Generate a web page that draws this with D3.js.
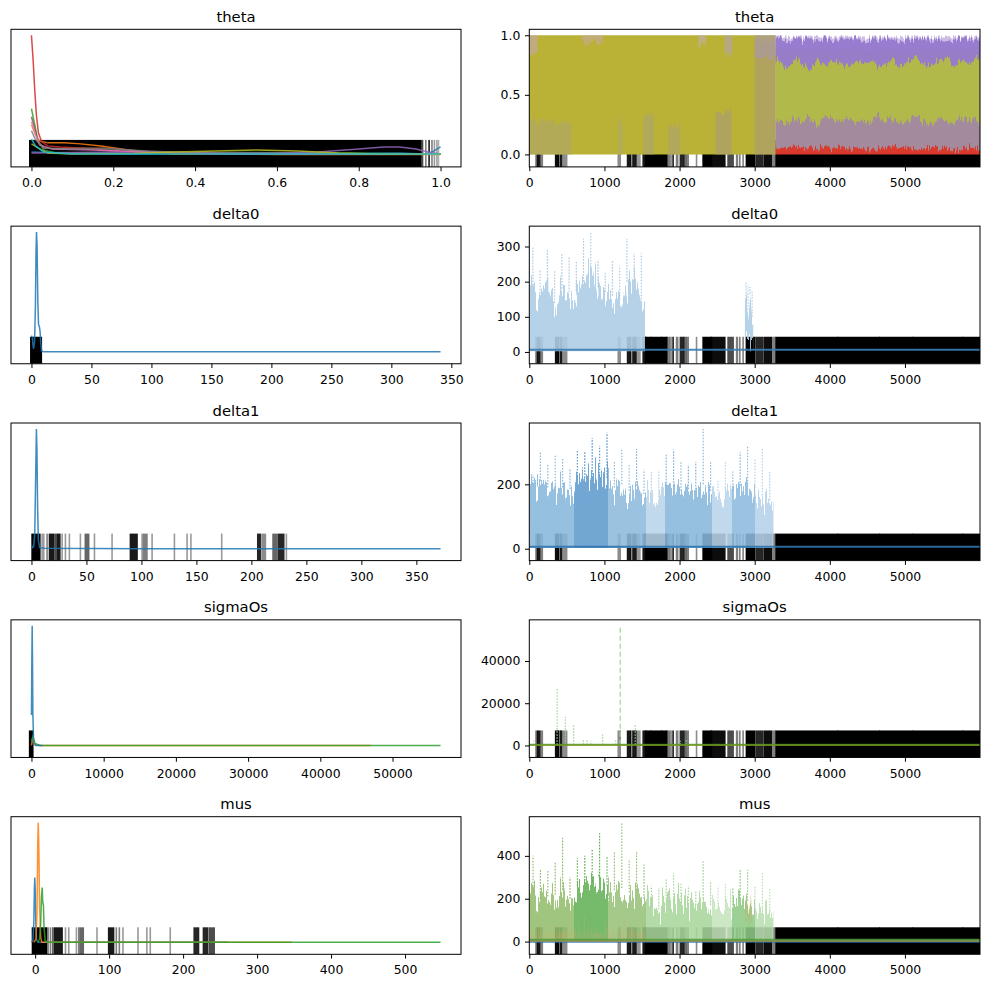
<!DOCTYPE html>
<html>
<head>
<meta charset="utf-8">
<script src="https://cdn.jsdelivr.net/npm/d3@7"></script>
<style>
  body { margin: 0; background: #fff; }
  svg text { font-family: "DejaVu Sans", sans-serif; fill: #000; }
</style>
</head>
<body>
<svg id="chart" width="989" height="989"></svg>
<script>
// ---------- data ----------
const varNames = ["theta", "delta0", "delta1", "sigmaOs", "mus"];
const nDraws = 6000;

// left column tick labels
const thetaTicksL = [0, 0.2, 0.4, 0.6, 0.8, 1.0];
const delta0TicksL = [0, 50, 100, 150, 200, 250, 300, 350];
const delta1TicksL = [0, 50, 100, 150, 200, 250, 300, 350];
const sigmaTicksL = [0, 10000, 20000, 30000, 40000, 50000];
const musTicksL = [0, 100, 200, 300, 400, 500];

// right column tick labels
const drawTicks = [0, 1000, 2000, 3000, 4000, 5000];
const thetaTicksR = [0, 0.5, 1.0];
const delta0TicksR = [0, 100, 200, 300];
const delta1TicksR = [0, 200];
const sigmaTicksR = [0, 20000, 40000];
const musTicksR = [0, 200, 400];

// kde curves: [tab10 index, [[value, density], ...]]
const thetaKde = [
  [0, [[0,3],[0.2,1],[0.5,1],[0.75,1.5],[0.9,2],[0.96,1],[0.98,3],[1,8]]],
  [1, [[0,30],[0.01,20],[0.02,14],[0.04,12],[0.08,12],[0.12,11],[0.17,9],[0.22,6],[0.27,3],[0.35,1],[0.6,0.5],[1,0.5]]],
  [2, [[0,46],[0.008,30],[0.016,14],[0.03,5],[0.06,2],[0.2,2],[0.5,2.5],[0.7,2],[1,1]]],
  [3, [[0,119],[0.004,95],[0.008,65],[0.012,40],[0.017,22],[0.025,13],[0.04,9],[0.07,8],[0.12,7],[0.2,4],[0.3,2],[0.5,1],[1,1]]],
  [4, [[0,2],[0.2,3],[0.4,2],[0.6,2],[0.7,3],[0.8,6],[0.86,8],[0.9,8],[0.94,6],[0.97,3],[1,1]]],
  [5, [[0,38],[0.008,26],[0.016,14],[0.03,7],[0.06,6],[0.12,7],[0.18,7],[0.24,5],[0.32,2],[0.5,1],[1,1]]],
  [6, [[0,33],[0.01,20],[0.02,10],[0.05,6],[0.15,5],[0.3,3],[0.5,1],[1,1]]],
  [7, [[0,24],[0.01,15],[0.03,7],[0.1,6],[0.2,6],[0.28,4],[0.4,2],[0.6,1],[1,1]]],
  [8, [[0,11],[0.02,6],[0.04,2],[0.1,1],[0.25,1.5],[0.35,3],[0.45,4],[0.55,5],[0.65,4],[0.75,2],[0.85,1],[1,1]]],
  [9, [[0,16],[0.01,9],[0.03,3],[0.1,1],[0.5,1],[1,1]]]
];
const delta0Kde = [
  [0, [[0,16],[0.8,14],[1.3,6],[1.8,3],[2.6,10],[3.3,45],[3.8,100],[4.2,119],[4.7,105],[5.3,50],[5.9,27],[6.6,25],[7.2,20],[7.8,8],[8.5,1],[10,0],[341,0]]]
];
const delta1Kde = [
  [0, [[0,3],[1,1],[2,2],[3,15],[3.8,70],[4.5,120],[5,100],[5.6,40],[6.3,8],[7.5,1],[12,0.5],[100,0],[372,0]]]
];
const sigmaKde = [
  [1, [[0,0],[150,6],[400,1],[1000,0],[47000,0]]],
  [2, [[0,4],[200,9],[500,2],[1200,0],[56650,0]]],
  [0, [[0,30],[60,90],[100,118],[140,90],[200,30],[300,2],[600,0],[1500,0]]]
];
const musKde = [
  [0, [[-5,0],[-3,2],[-1.8,20],[-1,55],[-0.5,65],[0.2,50],[1,15],[2,2],[4,0],[260,0]]],
  [1, [[-2,0],[1,3],[2.5,30],[3.5,100],[4.2,120],[5,95],[6,35],[7.5,5],[9,0],[347,0]]],
  [2, [[3,0],[6,3],[7.5,20],[8.5,45],[9.5,55],[10.3,40],[11.2,37],[12,15],[13.5,2],[16,0],[548,0]]]
];

// divergences on the kde side: [from, to, opacity]
const thetaDivL = [[-0.004,0.952,1],[0.956,0.956,0.7],[0.964,0.964,0.5],[0.972,0.972,0.9],[0.979,0.979,0.5],[0.985,0.985,0.4],[0.991,0.991,0.35],[0.995,0.995,0.3]];
const delta0DivL = [[-0.5,8.2,1]];
const delta1DivL = [[0.6,7.6,1],[9.7,9.7,0.4],[11.2,11.2,0.4],[14.2,14.2,0.5],[16.4,20.3,0.9],[21.8,21.8,0.7],[23.3,25.8,0.9],[27.9,27.9,0.4],[30.9,30.9,0.4],[34.5,34.5,0.4],[44.5,44.5,0.4],[49,52,0.6],[57.3,57.3,0.4],[73.3,73.3,0.4],[90,96,0.9],[100.6,100.6,0.4],[102,105,0.5],[109.7,109.7,0.4],[130,130,0.4],[141.5,141.5,0.4],[145,145,0.4],[173,173,0.4],[205.8,208,0.85],[209.7,212.7,0.45],[219.7,223.3,0.6],[224.8,229.4,0.85],[231.8,231.8,0.4]];
const sigmaDivL = [[-250,180,1]];
const musDivL = [[-3.6,15.3,1],[17.5,17.5,0.5],[20.7,20.7,0.5],[23.8,23.8,0.6],[26,36.4,0.9],[41,41,0.4],[45.4,45.4,0.4],[55.8,55.8,0.4],[59,59,0.5],[61,65,0.6],[83.6,83.6,0.4],[99.4,106,0.9],[109.7,109.7,0.5],[113.8,113.8,0.5],[118.7,118.7,0.4],[139,139,0.4],[151,151,0.4],[155.6,155.6,0.4],[182.6,182.6,0.4],[215,220.8,0.85],[227.5,233,0.85],[235.6,242,0.7]];

// divergences on the trace side (draw index): [from, to, opacity]
const divDraws = [[89,100,0.5],[110,138,0.9],[156,173,0.5],[351,386,0.95],[386,420,0.5],[420,430,0.85],[452,497,0.45],[1184,1210,0.45],[1308,1343,0.9],[1352,1370,0.45],[1383,1420,0.9],[1441,1472,0.4],[1516,1548,0.9],[1548,1615,1],[1625,1755,1],[1765,1827,1],[1835,1835,0.5],[1850,1850,0.5],[1870,1870,0.5],[1890,1890,0.4],[1914,1914,0.9],[1960,1975,0.5],[2011,2056,0.85],[2065,2080,0.5],[2093,2115,0.5],[2226,2226,0.45],[2314,2425,1],[2425,2602,0.95],[2646,2713,0.7],[2760,2770,0.5],[2802,2802,0.5],[2846,2846,0.5],[2890,3000,1],[3022,3110,0.85],[3133,3222,0.95],[3244,3270,0.5],[3285,4102,1],[4112,4658,1],[4668,5100,1],[5110,5765,1],[5776,5999,1]];

// theta trace, first part: [from, to, low, high]
const thetaPatches = [[0,3280,0,1.0],[0,560,0,0.28],[0,110,0.86,1.0],[700,980,0.94,1.0],[1180,1240,0,0.3],[1520,1660,0,0.32],[1850,2010,0,0.24],[2250,2350,0.92,1.0],[2480,2690,0,0.36],[2600,2700,0.85,1.0],[3000,3280,0,0.95],[3000,3280,0.8,1.0]];
// theta trace, second part (draws 3280-6000 in 27 blocks)
const thetaLate = [3280, 5999];
const thetaLateOlive = [0.15, 0.9];
const thetaLateHaze = [0.88, 0.99];
const thetaPurpleHi = [0.97,0.95,0.98,0.96,0.97,0.95,0.98,0.96,0.97,0.96,0.98,0.95,0.97,0.96,0.98,0.97,0.95,0.97,0.96,0.98,0.96,0.97,0.95,0.96,0.98,0.97,0.96];
const thetaPurpleLo = [0.78,0.74,0.80,0.76,0.72,0.79,0.75,0.80,0.77,0.73,0.78,0.76,0.81,0.74,0.77,0.79,0.75,0.78,0.80,0.76,0.74,0.79,0.82,0.75,0.78,0.77,0.80];
const thetaGrayHi = [0.28,0.25,0.32,0.27,0.30,0.24,0.33,0.28,0.26,0.31,0.27,0.29,0.25,0.32,0.28,0.30,0.26,0.29,0.33,0.27,0.25,0.30,0.28,0.24,0.31,0.27,0.29];
const thetaRedHi = [0.06,0.05,0.07,0.05,0.06,0.04,0.06,0.05,0.07,0.05,0.06,0.05,0.04,0.06,0.05,0.07,0.05,0.06,0.04,0.05,0.06,0.05,0.06,0.04,0.05,0.06,0.05];

// delta0 trace
const delta0Span = [0, 1540];
const delta0Peak = [298,236,293,230,280,270,258,322,341,262,225,262,245,322,280,280];
const delta0Body = [190,150,200,140,180,170,175,200,240,185,170,160,150,200,210,150];
const delta0BlipSpan = [2870, 2980];
const delta0BlipPeak = [197,190,185,172];
const delta0BlipBody = [150,120,165,100];
const delta0Low = 2;
const delta0Base = [6];

// delta1 trace
const delta1Span = [0, 3250];
const delta1Peak = [230,303,260,290,280,250,305,300,344,320,360,270,310,260,310,246,240,241,292,308,270,260,270,372,270,210,270,240,300,318,280,310,240];
const delta1Body = [200,210,190,200,190,185,215,220,230,225,220,190,200,180,195,170,150,160,185,195,180,185,175,200,180,170,180,180,195,200,170,165,150];
const delta1Bounds = [0,590,1050,1550,1800,2430,2700,3000,3250];
const delta1Low = 2;
const delta1Base = [6];

// sigmaOs trace: isolated excursions [draw, value]
const sigmaDotted = [[60,2800],[370,27200],[480,13600],[590,9600],[720,2600],[770,3000],[820,2000],[975,5200],[1150,2500],[1410,9600],[2010,2200],[2090,2600]];
const sigmaDashed = [[1210,56650]];
const sigmaBase = [250, 320];

// mus trace
const musSpan = [0, 3250];
const musPeak = [400,340,330,370,485,300,390,400,430,505,400,420,555,380,423,360,260,250,290,320,270,260,240,375,280,260,270,250,340,335,260,320,250];
const musBody = [230,200,210,220,240,200,260,270,280,290,260,240,250,230,240,200,160,150,170,190,180,175,170,200,170,160,165,170,200,190,150,160,140];
const musBounds = [0,600,1050,1550,2430,2700,3000,3250];
const musPatches = [[0,1550,2,35],[2870,2960,100,200]];
const musLow = 2;
const musBase = [-1, 4, 9];

// ---------- styles ----------
const tab10 = d3.schemeCategory10;
const thetaPatchColors = ["#bab236","#ada56c","#c4a7b0","#c9a9a9","#aea66f","#aaa175","#aba274","#bfb0b8","#a79b7c","#b4a4b4","#aa9a78","#a696b0"];
const delta1Colors = ["#87b7db","#5f9bcd","#8dbadc","#bad4ea","#88b7db","#b9d4ea","#8cbadd","#b5d1e9"];
const musColors = ["#93bd6c","#63b057","#97c27a","#a8d69c","#c5e4bc","#8fca85","#b9dfb0"];
const musPatchColors = ["#d2aa6e","#c4a35e"];

const L = { top: 29.3, pitch: 196.85, h: 137.6, leftX: 11, leftW: 450, rightX: 529.3, rightW: 450.7, divH: 27, pad: 40 };
const tickFont = 12.4, titleFont = 14.8;

const svg = d3.select("#chart");
const defs = svg.append("defs");

// streaky texture so the dense sample fills read like many overlapping traces
function ragFilter(id, scale) {
  const f = defs.append("filter").attr("id", id)
    .attr("x", "-5%").attr("y", "-40%").attr("width", "110%").attr("height", "180%")
    .attr("color-interpolation-filters", "sRGB");
  f.append("feTurbulence").attr("type", "fractalNoise")
    .attr("baseFrequency", "0.55 0.018").attr("numOctaves", 2).attr("seed", 3).attr("result", "n");
  f.append("feColorMatrix").attr("in", "n").attr("type", "matrix")
    .attr("values", "0 0 0 0 0.5  0 1 0 0 0  0 0 1 0 0  0 0 0 0 1").attr("result", "m");
  f.append("feDisplacementMap").attr("in", "SourceGraphic").attr("in2", "m")
    .attr("scale", scale).attr("xChannelSelector", "R").attr("yChannelSelector", "G");
}
ragFilter("rag-big", 60);
ragFilter("rag-small", 16);

// ---------- helpers ----------
function shell(id, left, top, w, x, y, title, xTicks, xFmt, yTicks, yFmt) {
  const g = svg.append("g").attr("transform", `translate(${left},${top})`);
  defs.append("clipPath").attr("id", "clip-" + id)
    .append("rect").attr("width", w).attr("height", L.h);
  const plot = g.append("g").attr("clip-path", `url(#clip-${id})`);

  const ax = g.append("g").attr("transform", `translate(0,${L.h})`)
    .call(d3.axisBottom(x).tickValues(xTicks).tickFormat(d3.format(xFmt)).tickSize(4.3).tickPadding(7));
  ax.select(".domain").remove();
  ax.selectAll("text").attr("font-size", tickFont).attr("font-family", "DejaVu Sans");
  ax.selectAll("line").attr("stroke-width", 1);

  if (yTicks) {
    const ay = g.append("g")
      .call(d3.axisLeft(y).tickValues(yTicks).tickFormat(d3.format(yFmt)).tickSize(4.3).tickPadding(4.7));
    ay.select(".domain").remove();
    ay.selectAll("text").attr("font-size", tickFont).attr("font-family", "DejaVu Sans");
    ay.selectAll("line").attr("stroke-width", 1);
  }

  g.append("rect").attr("width", w).attr("height", L.h)
    .attr("fill", "none").attr("stroke", "#000").attr("stroke-width", 1);
  g.append("text").attr("x", w / 2).attr("y", -7.5)
    .attr("text-anchor", "middle").attr("font-size", titleFont).text(title);
  return plot;
}

function drawDivs(plot, x, divs) {
  plot.append("g").selectAll("rect").data(divs).join("rect")
    .attr("x", d => x(d[0]) - 0.8)
    .attr("width", d => Math.max(x(d[1]) - x(d[0]), 0) + 1.6)
    .attr("y", L.h - L.divH).attr("height", L.divH)
    .attr("fill", "#000").attr("fill-opacity", d => d[2]);
}

function leftPanel(row, name, curves, divs, ticks, fmt) {
  const [x0, x1] = d3.extent(curves.flatMap(c => c[1].map(p => p[0])));
  const m = (x1 - x0) * 0.05;
  const x = d3.scaleLinear().domain([x0 - m, x1 + m]).range([0, L.leftW]);
  const ymax = d3.max(curves, c => d3.max(c[1], p => p[1]));
  const y = d3.scaleLinear().domain([-0.1 * ymax, 1.05 * ymax]).range([L.h, 0]);
  const plot = shell("l" + row, L.leftX, L.top + row * L.pitch, L.leftW, x, y, name, ticks, fmt, null, null);
  drawDivs(plot, x, divs);
  const line = d3.line().x(d => x(d[0])).y(d => y(d[1]));
  plot.append("g").selectAll("path").data(curves).join("path")
    .attr("d", d => line(d[1]))
    .attr("fill", "none")
    .attr("stroke", d => tab10[d[0]])
    .attr("stroke-width", 1.5)
    .attr("stroke-opacity", 0.85);
}

function rightScales(yMin, yMax) {
  const x = d3.scaleLinear().domain([0, nDraws - 1]).range([0, L.rightW]);
  const r = yMax - yMin;
  const y = d3.scaleLinear().domain([yMin - 0.105 * r, yMax + 0.05 * r]).range([L.h, 0]);
  return { x, y };
}

function rightShell(row, name, s, ticks, fmt) {
  return shell("r" + row, L.rightX, L.top + row * L.pitch, L.rightW, s.x, s.y, name, drawTicks, "d", ticks, fmt);
}

// textured group, clipped to the band [floor, ceil] of the value axis
function texLayer(plot, s, id, floor, ceil, filterId) {
  const yTop = ceil === null ? -5 : s.y(ceil);
  defs.append("clipPath").attr("id", id)
    .append("rect").attr("x", -5).attr("y", yTop).attr("width", L.rightW + 10).attr("height", s.y(floor) - yTop);
  const g = plot.append("g").attr("clip-path", `url(#${id})`)
    .append("g").attr("filter", `url(#${filterId})`);
  g.floor = floor;
  g.ceil = ceil;
  return g;
}

// edges lying on the clip limits are pushed past them, so the texture never opens a gap there
const lowY = (layer, s, v) => s.y(v) + (layer.floor !== undefined && v <= layer.floor ? L.pad : 0);
const highY = (layer, s, v) => s.y(v) - (layer.ceil !== undefined && layer.ceil !== null && v >= layer.ceil ? L.pad : 0);

// block values -> area between low and high, one vertex per block
function blockArea(layer, s, span, lo, hi, fill, op) {
  const n = hi.length, size = (span[1] - span[0]) / n;
  const loAt = i => Array.isArray(lo) ? lo[i] : lo;
  const pts = hi.map((v, i) => ({ t: span[0] + (i + 0.5) * size, lo: loAt(i), hi: v }));
  pts.unshift({ t: span[0], lo: loAt(0), hi: hi[0] });
  pts.push({ t: span[1], lo: loAt(n - 1), hi: hi[n - 1] });
  return layer.append("path").datum(pts)
    .attr("d", d3.area().x(d => s.x(d.t)).y0(d => lowY(layer, s, d.lo)).y1(d => highY(layer, s, d.hi)))
    .attr("fill", fill).attr("fill-opacity", op);
}

function patchPaths(layer, s, patches, colors, op) {
  layer.append("g").selectAll("path").data(patches).join("path")
    .attr("d", d => d3.area().x(t => s.x(t)).y0(lowY(layer, s, d[2])).y1(highY(layer, s, d[3]))([d[0], d[1]]))
    .attr("fill", (d, i) => colors[i]).attr("fill-opacity", op);
}

function blockSpikes(plot, s, span, body, peak, colorOf, op) {
  const size = (span[1] - span[0]) / peak.length;
  const t = i => span[0] + (i + 0.5) * size;
  plot.append("g").selectAll("line").data(peak).join("line")
    .attr("x1", (d, i) => s.x(t(i))).attr("x2", (d, i) => s.x(t(i)))
    .attr("y1", (d, i) => s.y(body[i])).attr("y2", d => s.y(d))
    .attr("stroke", (d, i) => colorOf(t(i)))
    .attr("stroke-width", 1.2).attr("stroke-dasharray", "1.6,1.4")
    .attr("stroke-opacity", op);
}

function segGradient(id, s, bounds, colors) {
  const w = L.rightW;
  const grad = defs.append("linearGradient").attr("id", id)
    .attr("gradientUnits", "userSpaceOnUse")
    .attr("x1", 0).attr("x2", w).attr("y1", 0).attr("y2", 0);
  colors.forEach((c, i) => {
    grad.append("stop").attr("offset", s.x(bounds[i]) / w).attr("stop-color", c);
    grad.append("stop").attr("offset", s.x(bounds[i + 1]) / w).attr("stop-color", c);
  });
  return d3.scaleThreshold().domain(bounds.slice(1, -1)).range(colors);
}

function baseLines(plot, s, levels, colors, width, op) {
  plot.append("g").selectAll("line").data(levels).join("line")
    .attr("x1", 0).attr("x2", L.rightW)
    .attr("y1", d => s.y(d)).attr("y2", d => s.y(d))
    .attr("stroke", (d, i) => colors[i]).attr("stroke-width", width).attr("stroke-opacity", op);
}

// ---------- left column ----------
leftPanel(0, varNames[0], thetaKde, thetaDivL, thetaTicksL, ".1f");
leftPanel(1, varNames[1], delta0Kde, delta0DivL, delta0TicksL, "d");
leftPanel(2, varNames[2], delta1Kde, delta1DivL, delta1TicksL, "d");
leftPanel(3, varNames[3], sigmaKde, sigmaDivL, sigmaTicksL, "d");
leftPanel(4, varNames[4], musKde, musDivL, musTicksL, "d");

// ---------- right column ----------
// theta
{
  const s = rightScales(0, d3.max(thetaPatches, d => d[3]));
  const plot = rightShell(0, varNames[0], s, thetaTicksR, ".1f");
  drawDivs(plot, s.x, divDraws);
  patchPaths(plot, s, thetaPatches.slice(0, 1), thetaPatchColors, 1);
  blockArea(plot, s, thetaLate, thetaLateOlive[0], [thetaLateOlive[1]], "#b2b94b", 1);
  const tex = texLayer(plot, s, "tex-theta", 0, 1.0, "rag-small");
  patchPaths(tex, s, thetaPatches.slice(1), thetaPatchColors.slice(1), 0.6);
  blockArea(tex, s, thetaLate, thetaLateHaze[0], [thetaLateHaze[1]], "#c6b6e2", 0.9);
  blockArea(tex, s, thetaLate, 0.03, thetaGrayHi, "#a38b9d", 1);
  blockArea(tex, s, thetaLate, 0, thetaRedHi, "#d93a2c", 1);
  blockArea(tex, s, thetaLate, thetaPurpleLo, thetaPurpleHi, "#9679cf", 0.95);
}

// delta0
{
  const s = rightScales(d3.min([delta0Low, ...delta0Base]), d3.max([...delta0Peak, ...delta0BlipPeak]));
  const plot = rightShell(1, varNames[1], s, delta0TicksR, "d");
  drawDivs(plot, s.x, divDraws);
  const c = "#aecde5";
  const tex = texLayer(plot, s, "tex-delta0", delta0Low, null, "rag-big");
  blockArea(tex, s, delta0Span, delta0Low, delta0Body, c, 0.9);
  blockArea(tex, s, delta0BlipSpan, 40, delta0BlipBody, c, 0.9);
  blockSpikes(plot, s, delta0Span, delta0Body, delta0Peak, () => c, 1);
  blockSpikes(plot, s, delta0BlipSpan, delta0BlipBody, delta0BlipPeak, () => c, 1);
  baseLines(plot, s, delta0Base, ["#3b7db4"], 2, 0.9);
}

// delta1
{
  const s = rightScales(d3.min([delta1Low, ...delta1Base]), d3.max(delta1Peak));
  const plot = rightShell(2, varNames[2], s, delta1TicksR, "d");
  drawDivs(plot, s.x, divDraws);
  const colorOf = segGradient("g-delta1", s, delta1Bounds, delta1Colors);
  const tex = texLayer(plot, s, "tex-delta1", delta1Low, null, "rag-big");
  blockArea(tex, s, delta1Span, delta1Low, delta1Body, "url(#g-delta1)", 0.88);
  blockSpikes(plot, s, delta1Span, delta1Body, delta1Peak, colorOf, 1);
  baseLines(plot, s, delta1Base, ["#2e74ad"], 2, 0.9);
}

// sigmaOs
{
  const s = rightScales(d3.min(sigmaBase), d3.max([...sigmaDotted, ...sigmaDashed], d => d[1]));
  const plot = rightShell(3, varNames[3], s, sigmaTicksR, "d");
  drawDivs(plot, s.x, divDraws);
  plot.append("g").selectAll("line").data(sigmaDotted).join("line")
    .attr("x1", d => s.x(d[0])).attr("x2", d => s.x(d[0]))
    .attr("y1", s.y(sigmaBase[1])).attr("y2", d => s.y(d[1]))
    .attr("stroke", (d, i) => i === 0 ? "#f7c590" : "#9fd194")
    .attr("stroke-width", 1.2).attr("stroke-dasharray", "1.5,1.5");
  plot.append("g").selectAll("line").data(sigmaDashed).join("line")
    .attr("x1", d => s.x(d[0])).attr("x2", d => s.x(d[0]))
    .attr("y1", s.y(sigmaBase[1])).attr("y2", d => s.y(d[1]))
    .attr("stroke", "#a6d49c").attr("stroke-width", 1.3).attr("stroke-dasharray", "5,3");
  baseLines(plot, s, sigmaBase, [tab10[1], tab10[2]], 2, 0.7);
}

// mus
{
  const s = rightScales(d3.min([musLow, ...musBase]), d3.max(musPeak));
  const plot = rightShell(4, varNames[4], s, musTicksR, "d");
  drawDivs(plot, s.x, divDraws);
  const colorOf = segGradient("g-mus", s, musBounds, musColors);
  const tex = texLayer(plot, s, "tex-mus", musLow, null, "rag-big");
  blockArea(tex, s, musSpan, musLow, musBody, "url(#g-mus)", 0.88);
  patchPaths(tex, s, musPatches, musPatchColors, 0.3);
  blockSpikes(plot, s, musSpan, musBody, musPeak, colorOf, 1);
  baseLines(plot, s, musBase, [tab10[0], "#c8913c", "#4e9e3f"], 2, 0.85);
}
</script>
</body>
</html>
